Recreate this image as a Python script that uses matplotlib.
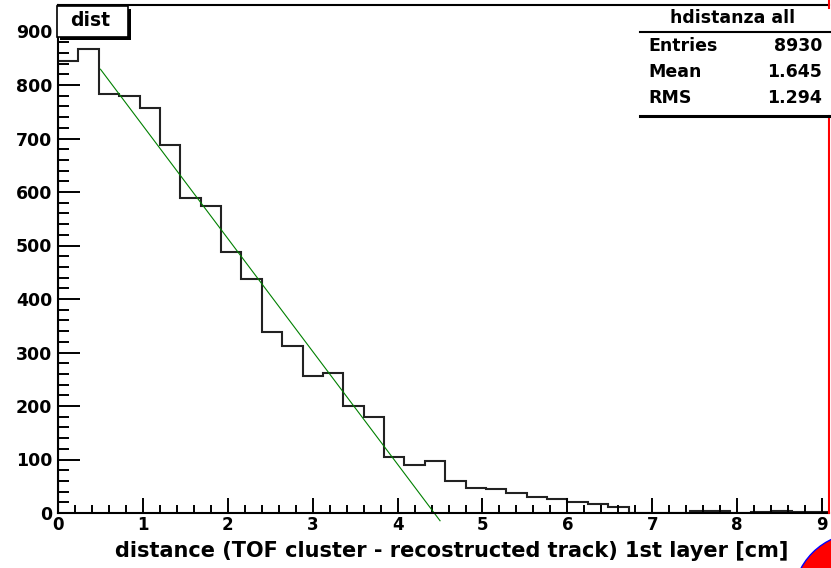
import numpy as np
import matplotlib
matplotlib.use("Agg")
import matplotlib.pyplot as plt
from matplotlib.patches import Rectangle, Ellipse
from matplotlib.lines import Line2D

# histogram "hdistanza all": 0.24 cm bins starting at 0
bin_width = 0.24
counts = [845, 867, 783, 779, 757, 688, 589, 574, 488, 438,
          338, 312, 256, 261, 200, 179, 105, 90, 97, 59,
          47, 45, 37, 30, 27, 21, 17, 12, 0, 0,
          0, 3, 3, 0, 2, 3, 2, 1]
edges = np.arange(len(counts) + 1) * bin_width

# linear fit drawn in green
fit_params = [935.0, -211.0]   # p0 + p1*x
fit_range = [0.5, 4.5]

stats_names = ["Entries", "Mean", "RMS"]
stats_values = ["8930", "1.645", "1.294"]

xlabel = "distance (TOF cluster - recostructed track) 1st layer [cm]"
xticks = np.arange(0, 10)
yticks = np.arange(0, 1000, 100)

W, H = 831, 568
plt.rcParams['font.family'] = ['DejaVu Sans']
plt.rcParams['font.weight'] = 'bold'
fig = plt.figure(figsize=(W / 100, H / 100), dpi=100)

def fx(px):
    return px / W

def fy(py):
    return 1 - py / H

left, right, top, bottom = 58, 829, 5, 513
ax = fig.add_axes([fx(left), fy(bottom), fx(right - left), (bottom - top) / H])
ax.set_xlim(0, (right - left) / 84.9)
ax.set_ylim(0, (bottom - top) / 0.535)

ax.stairs(counts, edges, color='#222222', lw=1.5)

xf = np.array(fit_range)
ax.plot(xf, fit_params[0] + fit_params[1] * xf, color='#008000', lw=0.8, clip_on=False)

for s in ['left', 'top', 'bottom']:
    ax.spines[s].set_linewidth(1.5)
    ax.spines[s].set_color('black')
ax.spines['right'].set_visible(False)

ax.set_xticks(xticks)
ax.set_xticks(np.arange(0, 9.1, 0.2), minor=True)
ax.set_yticks(yticks)
ax.set_yticks(np.arange(0, 950, 20), minor=True)
ax.tick_params(axis='x', which='major', direction='in', length=11, width=1.4, labelsize=12, pad=2)
ax.tick_params(axis='x', which='minor', direction='in', length=6, width=1.4)
ax.tick_params(axis='y', which='major', direction='in', length=16, width=1.4, labelsize=12.5, pad=4)
ax.tick_params(axis='y', which='minor', direction='in', length=8, width=1.4)
for lab in ax.get_xticklabels() + ax.get_yticklabels():
    lab.set_fontweight('bold')

fig.text(fx(452), fy(551), xlabel, ha='center', va='center', fontsize=15, fontweight='bold')

# red right frame edge
fig.add_artist(Line2D([fx(829), fx(829)], [fy(116), fy(513)], color='red', lw=1.5))
fig.add_artist(Line2D([fx(829), fx(829)], [fy(0), fy(8)], color='red', lw=1.5))

# title box "dist" with shadow
fig.add_artist(Rectangle((fx(60), fy(40)), fx(71), 31 / H, facecolor='black', edgecolor='none'))
fig.add_artist(Rectangle((fx(57), fy(37)), fx(71), 31 / H, facecolor='white', edgecolor='black', lw=1.2))
fig.text(fx(70), fy(21), "dist", ha='left', va='center', fontsize=13.5, fontweight='bold')

# stats box
fig.add_artist(Line2D([fx(640), fx(831)], [fy(32), fy(32)], color='black', lw=1.5))
fig.add_artist(Line2D([fx(640), fx(829)], [fy(116), fy(116)], color='black', lw=2.2))
fig.text(fx(733), fy(18), "hdistanza all", ha='center', va='center', fontsize=12.5, fontweight='bold')
for i, (n, v) in enumerate(zip(stats_names, stats_values)):
    y = fy(46 + 26 * i)
    fig.text(fx(648), y, n, ha='left', va='center', fontsize=12.5, fontweight='bold')
    fig.text(fx(822), y, v, ha='right', va='center', fontsize=12.5, fontweight='bold')

# red blob in bottom right corner
fig.add_artist(Ellipse((8.60, -0.32), 1.34, 1.34, transform=fig.dpi_scale_trans,
                       facecolor='red', edgecolor='blue', lw=1))

fig.savefig("out.png", dpi=100)
